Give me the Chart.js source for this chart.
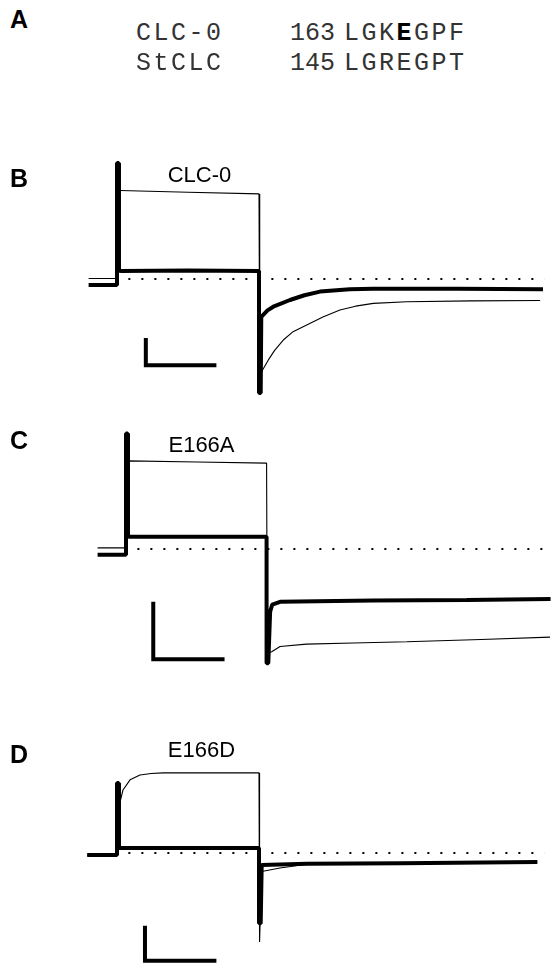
<!DOCTYPE html>
<html>
<head>
<meta charset="utf-8">
<script src="https://cdn.jsdelivr.net/npm/chart.js@4.4.1/dist/chart.umd.min.js"></script>
<style>
  html, body { margin: 0; padding: 0; background: #fff; }
  #fig { position: relative; width: 552px; height: 966px; overflow: hidden; }
  #fig canvas { position: absolute; left: 0; }
  .tag { position: absolute; font: bold 25px "Liberation Sans", Arial, sans-serif; line-height: 25px; color: #000; }
  .name { position: absolute; font: 22px "Liberation Sans", Arial, sans-serif; line-height: 22px; color: #000;
          transform: translateX(-50%); white-space: nowrap; }
  .seq { position: absolute; font: 25px "Liberation Mono", "Courier New", monospace; line-height: 25px;
         color: #333; letter-spacing: 2.5px; white-space: pre; }
  .seq.num { letter-spacing: 0; }
  .seq b { color: #000; }
</style>
</head>
<body>
<div id="fig">
  <canvas id="chartB" width="552" height="260"></canvas>
  <canvas id="chartC" width="552" height="260"></canvas>
  <canvas id="chartD" width="552" height="241"></canvas>
</div>
<script>
// ---- data: time in ms, current in µA (scale bars: 50 ms / 1 µA) ----
var seqNames = ['CLC-0', 'StCLC'];
var seqStarts = ['163', '145'];
var seqResidues = ['LGKEGPF', 'LGREGPT'];
var boldResidue = 3;   // the conserved glutamate in CLC-0

var panelTags = ['A', 'B', 'C', 'D'];
var constructs = ['CLC-0', 'E166A', 'E166D'];

// B: wild type CLC-0
var clc0ThickT = [-20, 0, 0, 1.2, 1.4, 2.5, 50, 100, 100, 101.2, 101.6, 106, 110.1, 121.8, 132, 143, 164, 180.5, 240, 300];
var clc0ThickI = [-0.21, -0.21, 4.14, 4.14, 0.30, 0.29, 0.30, 0.29, -4.07, -4.07, -1.35, -1.12, -0.99, -0.75, -0.58, -0.45, -0.37, -0.35, -0.35, -0.37];
var clc0ThinT = [-20, 0, 1.0, 2.3, 50, 100, 100.5, 102.5, 106.6, 111, 117.1, 124, 133.6, 145, 157, 168, 180.5, 204, 250, 298];
var clc0ThinI = [0.02, 0.02, 3.16, 3.16, 3.10, 3.04, -3.43, -3.25, -2.89, -2.55, -2.18, -1.88, -1.64, -1.36, -1.11, -0.97, -0.87, -0.81, -0.78, -0.77];

// C: E166A
var e166aThickT = [-20, 0, 0, 1.2, 1.4, 2.5, 50, 99, 99, 100.2, 101.5, 103, 108.5, 174, 240, 299];
var e166aThickI = [-0.10, -0.10, 1.99, 1.99, 0.22, 0.21, 0.21, 0.21, -1.97, -1.97, -1.08, -0.96, -0.91, -0.89, -0.88, -0.86];
var e166aThinT = [-20, 0.5, 1.8, 50, 99, 99.5, 102.6, 108.5, 127, 160, 197.7, 250, 298.6];
var e166aThinI = [0.02, 0.02, 1.52, 1.50, 1.48, -1.80, -1.77, -1.68, -1.64, -1.62, -1.60, -1.56, -1.52];

// D: E166D
var e166dThickT = [-21, 0, 0, 1.2, 1.4, 2.5, 50, 100, 100, 101.2, 101.9, 134, 200, 296];
var e166dThickI = [-0.06, -0.06, 2.0, 2.0, 0.14, 0.14, 0.14, 0.14, -2.01, -2.01, -0.34, -0.31, -0.29, -0.26];
var e166dThinT = [-21, 0, 0.6, 2.0, 4.2, 9.2, 16.2, 24, 32.4, 60, 100, 100.4, 101.9, 114.8, 133.6, 160, 200, 296];
var e166dThinI = [-0.06, -0.06, 2.03, 1.43, 1.80, 2.09, 2.23, 2.27, 2.29, 2.29, 2.29, -2.54, -0.53, -0.43, -0.32, -0.30, -0.29, -0.26];

// zero-current reference line
var zeroLineT = [8, 301];
var zeroLineI = [0, 0];

// scale bars (vertical 1 µA, horizontal 50 ms)
var barBT = [20.3, 20.3, 70];
var barBI = [-2.11, -3.08, -3.08];
var barCT = [19.2, 19.2, 69.4];
var barCI = [-0.91, -1.90, -1.90];
var barDT = [19.7, 19.7, 70];
var barDI = [-2.08, -3.08, -3.08];

// ---- layout ----
var PX_PER_MS = 1.42;
var fig = document.getElementById('fig');

function pts(t, v) {
  return t.map(function (x, k) { return { x: x, y: v[k] }; });
}

function addText(cls, html, left, top) {
  var el = document.createElement('div');
  el.className = cls;
  el.innerHTML = html;
  el.style.left = left + 'px';
  el.style.top = top + 'px';
  fig.appendChild(el);
  return el;
}

function traceSet(data, width, join) {
  return {
    data: data,
    showLine: true,
    borderColor: '#000',
    borderWidth: width,
    borderJoinStyle: join || 'bevel',
    borderCapStyle: 'butt',
    pointRadius: 0,
    tension: 0
  };
}

function makePanel(p) {
  var canvas = document.getElementById(p.id);
  canvas.style.top = p.top + 'px';
  var h = canvas.height;
  var xMin = -p.x0 / PX_PER_MS;
  var yMax = (p.zeroY - p.top) / p.ppu;

  var dotted = traceSet(pts(zeroLineT, zeroLineI), 2);
  dotted.borderDash = [2, 11];

  return new Chart(canvas.getContext('2d'), {
    type: 'scatter',
    data: {
      datasets: [
        dotted,
        traceSet(pts(p.thinT, p.thinI), 1.1),
        traceSet(pts(p.thickT, p.thickI), 4),
        traceSet(pts(p.barT, p.barI), 4, 'miter')
      ]
    },
    options: {
      responsive: false,
      animation: false,
      devicePixelRatio: 1,
      events: [],
      layout: { padding: 0 },
      scales: {
        x: { type: 'linear', display: false, min: xMin, max: xMin + 552 / PX_PER_MS },
        y: { type: 'linear', display: false, min: yMax - h / p.ppu, max: yMax }
      },
      plugins: { legend: { display: false }, tooltip: { enabled: false } }
    }
  });
}

makePanel({ id: 'chartB', top: 150, x0: 117, zeroY: 279, ppu: 28,
  thickT: clc0ThickT, thickI: clc0ThickI, thinT: clc0ThinT, thinI: clc0ThinI, barT: barBT, barI: barBI });
makePanel({ id: 'chartC', top: 415, x0: 126, zeroY: 549, ppu: 58,
  thickT: e166aThickT, thickI: e166aThickI, thinT: e166aThinT, thinI: e166aThinI, barT: barCT, barI: barCI });
makePanel({ id: 'chartD', top: 725, x0: 117, zeroY: 853, ppu: 35,
  thickT: e166dThickT, thickI: e166dThickI, thinT: e166dThinT, thinI: e166dThinI, barT: barDT, barI: barDI });

// panel letters
var tagBaselines = [28, 187, 449, 763];
panelTags.forEach(function (t, k) {
  addText('tag', t, 10, tagBaselines[k] - 21);
});

// construct names above the traces
var nameCenters = [199.5, 201.5, 201.5];
var nameBaselines = [183, 453, 758];
constructs.forEach(function (n, k) {
  addText('name', n, nameCenters[k], nameBaselines[k] - 18.6);
});

// panel A alignment
var seqBaselines = [40, 70];
seqNames.forEach(function (n, k) {
  var top = seqBaselines[k] - 19.2;
  var res = seqResidues[k].split('').map(function (c, j) {
    return (k === 0 && j === boldResidue) ? '<b>' + c + '</b>' : c;
  }).join('');
  addText('seq', n, 136, top);
  addText('seq num', seqStarts[k], 290, top);
  addText('seq', res, 344, top);
});
</script>
</body>
</html>
